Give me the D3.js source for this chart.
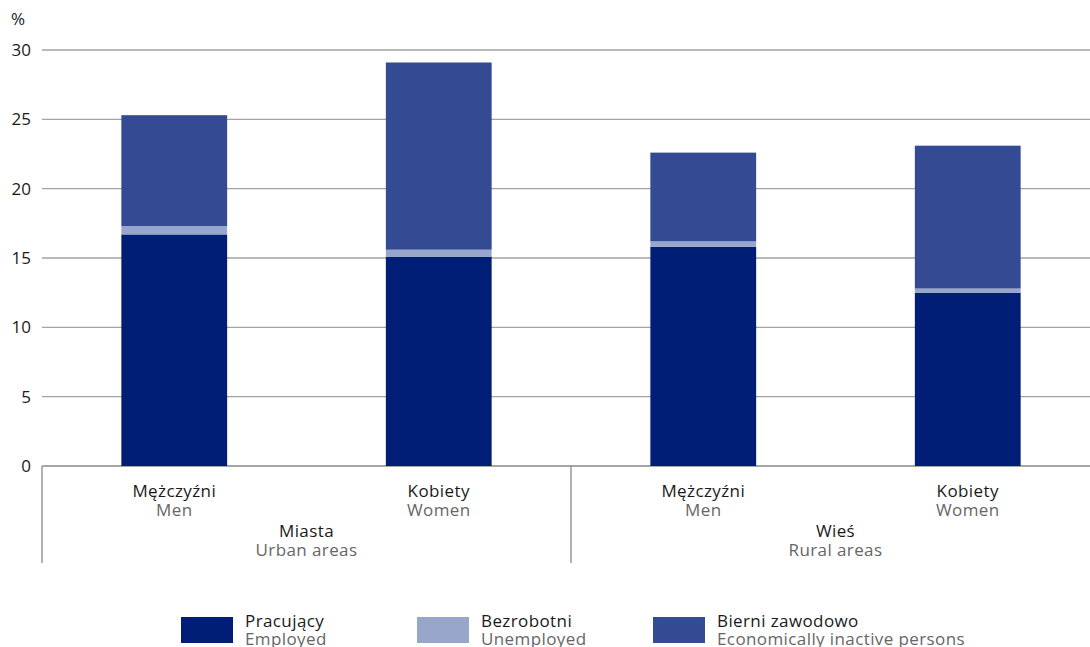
<!DOCTYPE html>
<html><head><meta charset="utf-8">
<script src="https://cdn.jsdelivr.net/npm/d3@7"></script>
<style>
body{margin:0;background:#fff;}
svg text{font-family:"Open Sans",Roboto,sans-serif;}
</style></head>
<body><svg id="c" width="1090" height="647"></svg>
<script>
const categories = ["Mężczyźni|Men","Kobiety|Women","Mężczyźni|Men","Kobiety|Women"];
const groups = [{pl:"Miasta",en:"Urban areas"},{pl:"Wieś",en:"Rural areas"}];
const employed = [16.7, 15.1, 15.8, 12.5];
const unemployed = [0.6, 0.5, 0.4, 0.3];
const inactive = [8.0, 13.5, 6.4, 10.3];
const seriesNames = [["Pracujący","Employed"],["Bezrobotni","Unemployed"],["Bierni zawodowo","Economically inactive persons"]];
const colors = ["#001e75","#98a6cb","#344b94"];
const yTicks = [0,5,10,15,20,25,30];
const FS = 17, LS = "0.4px";

const svg = d3.select("#c");
const x = d3.scaleBand().domain(d3.range(categories.length)).range([42,1100]).paddingInner(0.6).paddingOuter(0.3);
const y = d3.scaleLinear().domain([0,30]).range([466,50]);

// grid
svg.append("g").selectAll("line").data(yTicks).join("line")
  .attr("x1",42).attr("x2",1090).attr("y1",d=>y(d)).attr("y2",d=>y(d))
  .attr("stroke",d=>d===0?"#888":"#a3a3a3").attr("stroke-width",1.3);
svg.append("g").selectAll("text").data(yTicks).join("text")
  .attr("x",31).attr("y",d=>y(d)+6).attr("text-anchor","end")
  .attr("font-size",FS).attr("fill","#1a1a1a").text(d=>d);
svg.append("text").attr("x",11).attr("y",25).attr("font-size",FS).attr("fill","#1a1a1a").text("%");

const table = categories.map((c,i)=>({i, e:employed[i], u:unemployed[i], n:inactive[i]}));
const stack = d3.stack().keys(["e","u","n"])(table);
svg.append("g").selectAll("g").data(stack).join("g").attr("fill",(d,k)=>colors[k])
  .selectAll("rect").data(d=>d).join("rect")
  .attr("x",d=>x(d.data.i)).attr("width",x.bandwidth())
  .attr("y",d=>y(d[1])).attr("height",d=>y(d[0])-y(d[1]));

// separators
[42,571].forEach(xx=>svg.append("line").attr("x1",xx).attr("x2",xx).attr("y1",466).attr("y2",563).attr("stroke","#888").attr("stroke-width",1.3));

function label(xx,yy,txt,fill,anchor){
  return svg.append("text").attr("x",xx).attr("y",yy).attr("text-anchor",anchor||"middle")
    .attr("font-size",FS).attr("letter-spacing",LS).attr("fill",fill).text(txt);
}
categories.forEach((c,i)=>{
  const [pl,en]=c.split("|");
  const cx = x(i)+x.bandwidth()/2;
  label(cx,497,pl,"#1a1a1a");
  label(cx,516,en,"#666");
});
groups.forEach((g,k)=>{
  const cx = (x(2*k)+x(2*k+1)+x.bandwidth())/2;
  label(cx,537,g.pl,"#1a1a1a");
  label(cx,556,g.en,"#666");
});

// legend
const lx=[181,417,653];
seriesNames.forEach((s,k)=>{
  svg.append("rect").attr("x",lx[k]).attr("y",617).attr("width",52).attr("height",26).attr("fill",colors[k]);
  label(lx[k]+64,627,s[0],"#1a1a1a","start");
  label(lx[k]+64,645,s[1],"#666","start");
});
</script></body></html>
